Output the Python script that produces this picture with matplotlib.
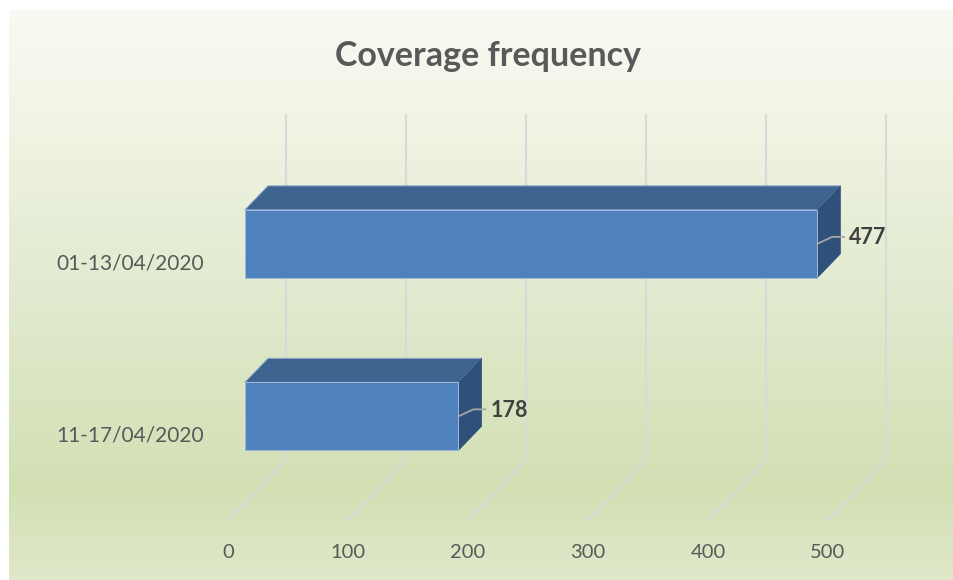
import numpy as np
import matplotlib.pyplot as plt
from matplotlib.patches import Polygon
from matplotlib.colors import LinearSegmentedColormap

# Daten
categories = ["11-17/04/2020", "01-13/04/2020"]
values = [178, 477]
x_ticks = [0, 100, 200, 300, 400, 500]
title = "Coverage frequency"

plt.rcParams['font.family'] = ['Lato', 'DejaVu Sans']

# 3D-Projektion (Pixel): Wert, Hoehe ueber dem Boden, Tiefe 0..1
X0, SCALE, DX = 228, 1.2, 58
FLOOR_Y, DY, WALL_H = 520, 60, 345
BAND = WALL_H / len(categories)
BAR_H, D_FRONT, D_BACK = 68, 0.29, 0.69

def px(v, d):
    return X0 + SCALE * v + DX * d

def py(z, d):
    return FLOOR_Y - z - DY * d

fig = plt.figure(figsize=(9.54, 5.8), dpi=100)
ax = fig.add_axes([0, 0, 1, 1])
ax.set_xlim(0, 954)
ax.set_ylim(580, 0)
ax.axis('off')

# Hintergrund mit Verlauf
cmap = LinearSegmentedColormap.from_list('bg', [
    (0.0, '#f8faf3'), (0.2, '#f0f4e4'), (0.5, '#e1eacf'),
    (0.84, '#d3e0b4'), (1.0, '#dfe8c9')])
grad = np.linspace(0, 1, 256).reshape(-1, 1)
ax.imshow(grad, cmap=cmap, aspect='auto', extent=(9, 954, 580, 10), zorder=0)

# Gitterlinien: Rueckwand und Boden
for t in x_ticks:
    ax.plot([px(t, 1), px(t, 1)], [py(0, 1), py(WALL_H, 1)], color='#d9d9d9', lw=1.5, zorder=1)
    ax.plot([px(t, 0), px(t, 1)], [py(0, 0), py(0, 1)], color='#d9d9d9', lw=1.5, zorder=1)
    ax.text(px(t, 0), 552, str(t), ha='center', va='center', fontsize=14.5, color='#595959')

# Balken
for i, (cat, v) in enumerate(zip(categories, values)):
    zc = BAND * (i + 0.5)
    z0, z1 = zc - BAR_H / 2, zc + BAR_H / 2
    front = [(px(0, D_FRONT), py(z0, D_FRONT)), (px(v, D_FRONT), py(z0, D_FRONT)),
             (px(v, D_FRONT), py(z1, D_FRONT)), (px(0, D_FRONT), py(z1, D_FRONT))]
    top = [(px(0, D_FRONT), py(z1, D_FRONT)), (px(v, D_FRONT), py(z1, D_FRONT)),
           (px(v, D_BACK), py(z1, D_BACK)), (px(0, D_BACK), py(z1, D_BACK))]
    side = [(px(v, D_FRONT), py(z0, D_FRONT)), (px(v, D_BACK), py(z0, D_BACK)),
            (px(v, D_BACK), py(z1, D_BACK)), (px(v, D_FRONT), py(z1, D_FRONT))]
    ax.add_patch(Polygon(top, closed=True, fc='#3d638f', ec='#8ea9cf', lw=0.7, zorder=3))
    ax.add_patch(Polygon(side, closed=True, fc='#2f5079', ec='#2f5079', lw=0.5, zorder=3))
    ax.add_patch(Polygon(front, closed=True, fc='#4f81bd', ec='#9fb8dc', lw=0.7, zorder=4))

    # Kategorie-Beschriftung
    ax.text(204, py(zc, 0) + 2, cat, ha='right', va='center', fontsize=15, color='#595959')

    # Datenbeschriftung mit Fuehrungslinie
    sx, sy = px(v, D_FRONT), py(zc, D_FRONT)
    bx, by = sx + 15, sy - 7
    ex = bx + 12
    ax.plot([sx, bx, ex], [sy, by, by], color='#a6a6a6', lw=1.3, zorder=5)
    ax.text(ex + 5, by + 1, str(v), ha='left', va='center', fontsize=15.5,
            fontweight='bold', color='#404040', zorder=5)

ax.text(488, 56, title, ha='center', va='center', fontsize=24.5,
        fontweight='bold', color='#595959')

fig.savefig('out.png', dpi=100)
